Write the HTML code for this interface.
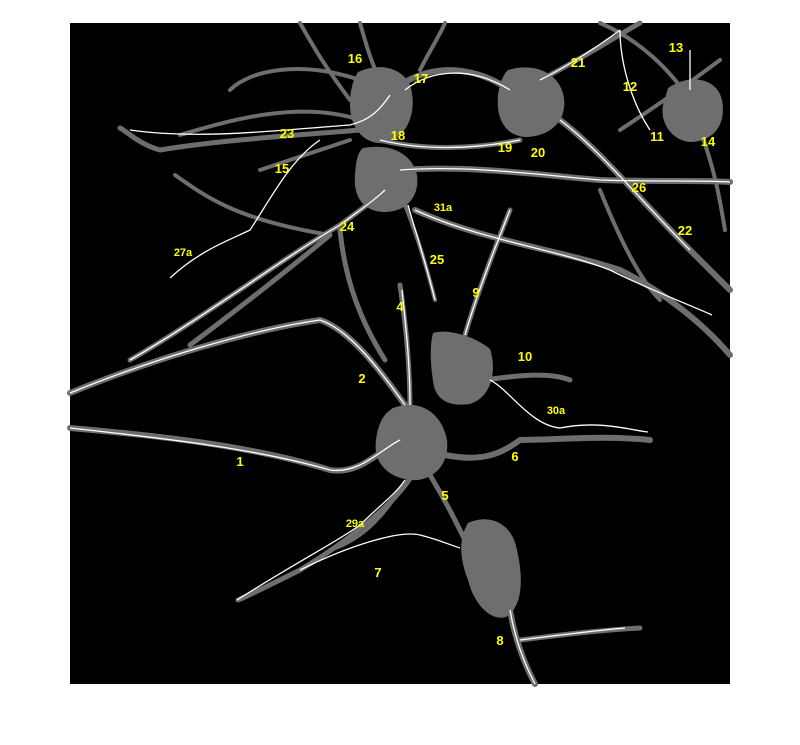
<!DOCTYPE html>
<html><head><meta charset="utf-8"><style>
html,body{margin:0;padding:0;background:#fff;width:800px;height:745px;overflow:hidden}
svg{display:block}
.d{fill:none;stroke:#6e6e6e;stroke-linecap:round;stroke-linejoin:round}
.t{fill:none;stroke:#fff;stroke-width:1.3;stroke-linejoin:round}
.s{fill:#6e6e6e}
.l{fill:#ffff00;font-family:"Liberation Sans",sans-serif;font-weight:bold;font-size:13px;text-anchor:middle}
.ls{font-size:11px}
</style></head><body>
<svg width="800" height="745" viewBox="0 0 800 745">
<rect x="70" y="23" width="660" height="661" fill="#000"/>
<g>
<path class="d" stroke-width="6" d="M70,428 C150,435 250,445 330,470 C360,475 380,450 400,440"/>
<path class="d" stroke-width="6" d="M70,393 C150,360 250,330 320,320 C350,330 380,370 405,405"/>
<path class="d" stroke-width="5" d="M130,360 C200,320 280,260 340,225 C360,210 375,200 385,190"/>
<path class="d" stroke-width="5" d="M190,345 C250,300 300,260 330,235"/>
<path class="d" stroke-width="6" d="M445,455 C480,462 500,455 520,440 C560,440 600,435 650,440"/>
<path class="d" stroke-width="5" d="M415,470 C400,500 350,540 300,570 C270,585 250,595 238,600"/>
<path class="d" stroke-width="5" d="M430,475 C445,500 455,520 465,540"/>
<path class="d" stroke-width="4" d="M400,490 C380,520 360,540 330,550"/>
<path class="d" stroke-width="6" d="M510,610 C515,640 525,665 535,684"/>
<path class="d" stroke-width="5" d="M520,640 C560,635 600,630 640,628"/>
<path class="d" stroke-width="5" d="M410,410 C410,360 405,320 400,285"/>
<path class="d" stroke-width="5" d="M465,335 C475,300 490,260 510,210"/>
<path class="d" stroke-width="5" d="M485,380 C520,375 550,372 570,380"/>
<path class="d" stroke-width="4" d="M435,300 C425,260 415,230 405,205"/>
<path class="d" stroke-width="6" d="M415,210 C480,240 560,250 620,270 C660,290 700,320 730,355"/>
<path class="d" stroke-width="6" d="M400,170 C470,165 540,175 600,180 C660,182 700,180 730,182"/>
<path class="d" stroke-width="6" d="M560,120 C600,150 640,200 690,250 C710,270 725,285 730,290"/>
<path class="d" stroke-width="4" d="M600,190 C620,240 640,280 660,300"/>
<path class="d" stroke-width="5" d="M360,130 C300,135 220,140 160,150 C140,145 125,130 120,128"/>
<path class="d" stroke-width="4" d="M360,120 C300,100 230,120 180,135"/>
<path class="d" stroke-width="4" d="M350,100 C320,60 310,40 300,23"/>
<path class="d" stroke-width="4" d="M360,80 C300,60 250,70 230,90"/>
<path class="d" stroke-width="4" d="M380,80 C370,60 365,40 360,23"/>
<path class="d" stroke-width="6" d="M400,85 C440,60 480,70 510,90"/>
<path class="d" stroke-width="4" d="M420,70 C430,50 440,35 445,23"/>
<path class="d" stroke-width="5" d="M540,80 C580,60 610,40 640,23"/>
<path class="d" stroke-width="4" d="M600,23 C640,40 670,70 690,100"/>
<path class="d" stroke-width="4" d="M620,130 C650,110 680,90 720,60"/>
<path class="d" stroke-width="4" d="M700,130 C715,170 720,200 725,230"/>
<path class="d" stroke-width="5" d="M380,140 C420,150 470,150 520,140"/>
<path class="d" stroke-width="4" d="M175,175 C210,200 240,220 330,235"/>
<path class="d" stroke-width="4" d="M260,170 C290,160 320,150 350,140"/>
<path class="d" stroke-width="5" d="M340,230 C345,280 360,320 385,360"/>
</g>
<g>
<path class="s" d="M358,72 C380,62 402,68 410,85 C418,110 408,138 385,143 C363,145 350,127 350,105 C350,90 353,80 358,72Z"/>
<path class="s" d="M363,148 C390,143 412,153 417,175 C420,197 406,212 385,212 C363,212 353,196 355,175 C356,160 358,152 363,148Z"/>
<path class="s" d="M508,70 C535,62 560,73 564,98 C567,122 549,137 525,137 C503,135 496,116 498,95 C500,82 503,75 508,70Z"/>
<path class="s" d="M668,88 C690,73 717,78 722,100 C727,127 711,142 690,142 C670,140 660,121 663,105Z"/>
<path class="s" d="M433,333 C450,328 477,338 490,349 C497,370 492,397 470,404 C449,407 435,400 433,381 C430,360 430,345 433,333Z"/>
<path class="s" d="M393,408 C420,398 442,413 447,440 C450,466 431,482 410,480 C386,477 373,461 376,440 C378,424 383,414 393,408Z"/>
<path class="s" d="M468,523 C490,513 512,523 517,550 C524,581 522,607 506,617 C489,622 473,601 468,580 C460,560 458,539 468,523Z"/>
</g>
<g>
<path class="t" d="M70,428 C150,437 250,447 330,470 C360,474 380,450 400,440"/>
<path class="t" d="M70,393 C150,360 250,330 320,320 C350,330 380,370 405,405"/>
<path class="t" d="M130,360 C200,320 280,260 340,225 C360,210 375,200 385,190"/>
<path class="t" d="M237,600 C300,560 340,540 360,525 C380,505 395,495 405,480"/>
<path class="t" d="M300,570 C350,545 400,530 420,535 C440,540 450,545 460,548"/>
<path class="t" d="M490,380 C510,390 530,425 560,428 C600,420 630,430 648,432"/>
<path class="t" d="M410,405 C410,360 405,320 402,290"/>
<path class="t" d="M465,335 C475,300 490,260 510,210"/>
<path class="t" d="M415,210 C480,240 560,250 610,270 C650,290 690,305 712,315"/>
<path class="t" d="M170,278 C200,250 230,240 250,230 C270,200 290,160 320,140"/>
<path class="t" d="M435,300 C425,260 415,230 408,205"/>
<path class="t" d="M130,130 C200,140 280,130 350,125 C370,120 380,110 390,95"/>
<path class="t" d="M400,170 C470,165 540,175 600,180 C660,182 700,180 730,182"/>
<path class="t" d="M560,120 C600,150 640,200 690,250"/>
<path class="t" d="M620,30 C620,60 630,100 650,130"/>
<path class="t" d="M690,50 C690,70 690,80 690,90"/>
<path class="t" d="M405,90 C430,70 470,65 510,90"/>
<path class="t" d="M540,80 C570,65 600,45 620,30"/>
<path class="t" d="M510,610 C515,640 525,665 535,684"/>
<path class="t" d="M520,640 C560,635 600,630 625,628"/>
<path class="t" d="M380,140 C420,150 470,150 520,140"/>
</g>
<g>
<text class="l" x="355" y="63">16</text>
<text class="l" x="421" y="83">17</text>
<text class="l" x="578" y="67">21</text>
<text class="l" x="676" y="52">13</text>
<text class="l" x="630" y="91">12</text>
<text class="l" x="287" y="138">23</text>
<text class="l" x="398" y="140">18</text>
<text class="l" x="505" y="152">19</text>
<text class="l" x="538" y="157">20</text>
<text class="l" x="657" y="141">11</text>
<text class="l" x="708" y="146">14</text>
<text class="l" x="282" y="173">15</text>
<text class="l" x="639" y="192">26</text>
<text class="l ls" x="443" y="211">31a</text>
<text class="l" x="347" y="231">24</text>
<text class="l" x="685" y="235">22</text>
<text class="l ls" x="183" y="256">27a</text>
<text class="l" x="437" y="264">25</text>
<text class="l" x="476" y="297">9</text>
<text class="l" x="400" y="311">4</text>
<text class="l" x="525" y="361">10</text>
<text class="l" x="362" y="383">2</text>
<text class="l ls" x="556" y="414">30a</text>
<text class="l" x="240" y="466">1</text>
<text class="l" x="515" y="461">6</text>
<text class="l" x="445" y="500">5</text>
<text class="l ls" x="355" y="527">29a</text>
<text class="l" x="378" y="577">7</text>
<text class="l" x="500" y="645">8</text>
</g>
</svg>
</body></html>
